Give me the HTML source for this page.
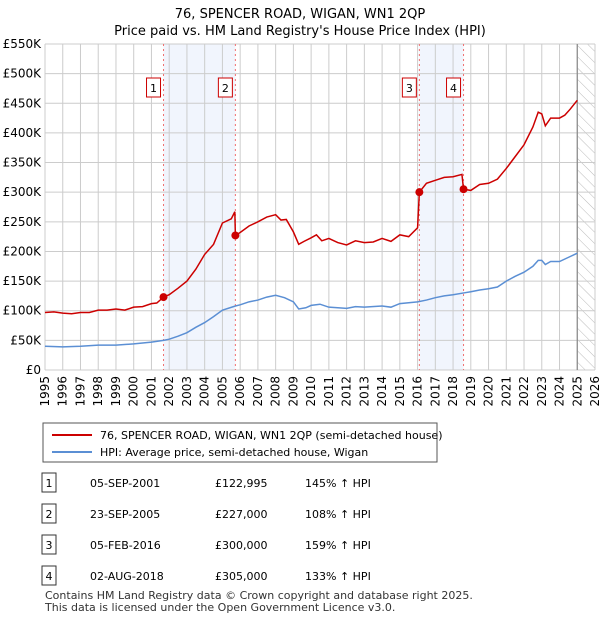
<!DOCTYPE html>
<html><head><meta charset="utf-8"><style>
body{margin:0;background:#fff;font-family:"Liberation Sans","DejaVu Sans",sans-serif;}
svg text{font-family:"DejaVu Sans","Liberation Sans",sans-serif;}
</style></head><body>
<svg id="c" width="600" height="620" viewBox="0 0 600 620" xmlns="http://www.w3.org/2000/svg">
<defs><pattern id="hatch" width="8" height="8" patternUnits="userSpaceOnUse" patternTransform="rotate(-45)"><line x1="0" y1="0" x2="0" y2="8" stroke="#bbb" stroke-width="1"/></pattern></defs>
<text x="300" y="18" text-anchor="middle" font-size="13" fill="#000">76, SPENCER ROAD, WIGAN, WN1 2QP</text>
<text x="300" y="35" text-anchor="middle" font-size="13" fill="#000">Price paid vs. HM Land Registry's House Price Index (HPI)</text>
<g id="plot"></g>
<rect x="43" y="423" width="394" height="39" fill="#fff" stroke="#555"/>
<line x1="52" y1="435" x2="92" y2="435" stroke="#cc0000" stroke-width="2"/>
<text x="100" y="439" font-size="11">76, SPENCER ROAD, WIGAN, WN1 2QP (semi-detached house)</text>
<line x1="52" y1="452" x2="92" y2="452" stroke="#5b8fd4" stroke-width="2"/>
<text x="100" y="456" font-size="11">HPI: Average price, semi-detached house, Wigan</text>
<g id="table" font-size="11"></g>
<text x="45" y="599" font-size="11" fill="#333">Contains HM Land Registry data © Crown copyright and database right 2025.</text>
<text x="45" y="611" font-size="11" fill="#333">This data is licensed under the Open Government Licence v3.0.</text>
</svg>
<script>
const yTicks=[0,50,100,150,200,250,300,350,400,450,500,550];
const yTickLabels=["£0","£50K","£100K","£150K","£200K","£250K","£300K","£350K","£400K","£450K","£500K","£550K"];
const xYears=[1995,1996,1997,1998,1999,2000,2001,2002,2003,2004,2005,2006,2007,2008,2009,2010,2011,2012,2013,2014,2015,2016,2017,2018,2019,2020,2021,2022,2023,2024,2025,2026];
const saleLabels=["1","2","3","4"];
const saleDates=[2001.68,2005.73,2016.1,2018.59];
const salePrices=[122.995,227,300,305];
const saleDateText=["05-SEP-2001","23-SEP-2005","05-FEB-2016","02-AUG-2018"];
const salePriceText=["£122,995","£227,000","£300,000","£305,000"];
const saleHpiText=["145% ↑ HPI","108% ↑ HPI","159% ↑ HPI","133% ↑ HPI"];
const redT=[1995,1995.5,1996,1996.5,1997,1997.5,1998,1998.5,1999,1999.5,2000,2000.5,2001,2001.3,2001.68,2002,2002.5,2003,2003.5,2004,2004.5,2005,2005.5,2005.7,2005.73,2006,2006.5,2007,2007.5,2008,2008.3,2008.6,2009,2009.3,2009.6,2010,2010.3,2010.6,2011,2011.5,2012,2012.5,2013,2013.5,2014,2014.5,2015,2015.5,2016.0,2016.1,2016.5,2017,2017.5,2018,2018.5,2018.59,2019,2019.5,2020,2020.5,2021,2021.5,2022,2022.5,2022.8,2023,2023.2,2023.5,2024,2024.3,2024.6,2025];
const redV=[97,98,96,95,97,97,101,101,103,101,106,107,112,113,123,127,138,150,170,195,212,248,255,267,227,232,243,250,258,262,253,254,233,212,217,223,228,218,222,215,211,218,215,216,222,217,228,225,240,300,315,320,325,326,330,305,303,313,315,322,340,360,380,410,435,432,412,425,425,430,440,455];
const hpiT=[1995,1996,1997,1998,1999,2000,2001,2001.68,2002,2002.5,2003,2003.5,2004,2004.5,2005,2005.73,2006,2006.5,2007,2007.5,2008,2008.5,2009,2009.3,2009.7,2010,2010.5,2011,2012,2012.5,2013,2014,2014.5,2015,2016,2016.5,2017,2017.5,2018,2018.6,2019,2019.5,2020,2020.5,2021,2021.5,2022,2022.5,2022.8,2023,2023.2,2023.5,2024,2024.5,2025];
const hpiV=[40,39,40,42,42,44,47,50,52,57,63,72,80,90,101,108,110,115,118,123,126,122,115,103,105,109,111,106,104,107,106,108,106,112,115,118,122,125,127,130,132,135,137,140,150,158,165,175,185,185,178,183,183,190,197];
const X0=45,X1=595,Y0=370,Y1=44;
const xs=t=>X0+(t-1995)/(2026-1995)*(X1-X0);
const ys=v=>Y0-v/550*(Y0-Y1);
const NS="http://www.w3.org/2000/svg";
const plot=document.getElementById('plot');
function mk(tag,attrs,parent){const e=document.createElementNS(NS,tag);for(const k in attrs)e.setAttribute(k,attrs[k]);(parent||plot).appendChild(e);return e;}
// shading
for(const [a,b] of [[0,1],[2,3]]){
const r=mk('rect',{x:xs(saleDates[a]),y:Y1,width:xs(saleDates[b])-xs(saleDates[a]),height:Y0-Y1,fill:'#eef3fc',opacity:0.8});


}
const hr=mk('rect',{x:xs(2025),y:Y1,width:X1-xs(2025),height:Y0-Y1,fill:'url(#hatch)'});


// grid
yTicks.forEach((v,i)=>{
const l=mk('line',{x1:X0,x2:X1,y1:ys(v),y2:ys(v),stroke:'#ccc'});


const t=mk('text',{x:X0-4,y:ys(v)+4,'text-anchor':'end','font-size':12});
t.textContent=yTickLabels[i];


});
xYears.forEach(y=>{
const l=mk('line',{x1:xs(y),x2:xs(y),y1:Y1,y2:Y0,stroke:'#ccc'});


const t=mk('text',{x:0,y:0,'text-anchor':'end','font-size':12,transform:`translate(${xs(y)+4},${Y0+6}) rotate(-90)`});
t.textContent=y;


});
const vl=mk('line',{x1:xs(2025),x2:xs(2025),y1:Y1,y2:Y0,stroke:'#888','stroke-width':1.2});


// sale markers
saleDates.forEach((d,i)=>{
const l=mk('line',{x1:xs(d),x2:xs(d),y1:Y1,y2:Y0,stroke:'#f07070','stroke-dasharray':'2,3'});


const b=mk('rect',{x:xs(d)-17,y:78,width:14,height:19,fill:'#fff',stroke:'#cc0000'});


const t=mk('text',{x:xs(d)-10,y:92,'text-anchor':'middle','font-size':11});
t.textContent=saleLabels[i];


});
const hp=mk('polyline',{points:hpiT.map((t,i)=>xs(t)+','+ys(hpiV[i])).join(' '),fill:'none',stroke:'#5b8fd4','stroke-width':1.5});


const rp=mk('polyline',{points:redT.map((t,i)=>xs(t)+','+ys(redV[i])).join(' '),fill:'none',stroke:'#cc0000','stroke-width':1.5});


saleDates.forEach((d,i)=>{
const c=mk('circle',{cx:xs(d),cy:ys(salePrices[i]),r:4,fill:'#cc0000'});


});
// table
const tb=document.getElementById('table');
const rowY=[483,514,545,576];
saleLabels.forEach((s,i)=>{
const y=rowY[i];
const b=mk('rect',{x:42,y:y-10,width:14,height:19,fill:'#fff',stroke:'#333'},tb);


const cols=[[49,s,'middle'],[90,saleDateText[i],'start'],[215,salePriceText[i],'start'],[305,saleHpiText[i],'start']];
cols.forEach(([x,txt,a],j)=>{
const t=mk('text',{x:x,y:y+4,'text-anchor':a},tb);
t.textContent=txt;


});
});
</script>
</body></html>
